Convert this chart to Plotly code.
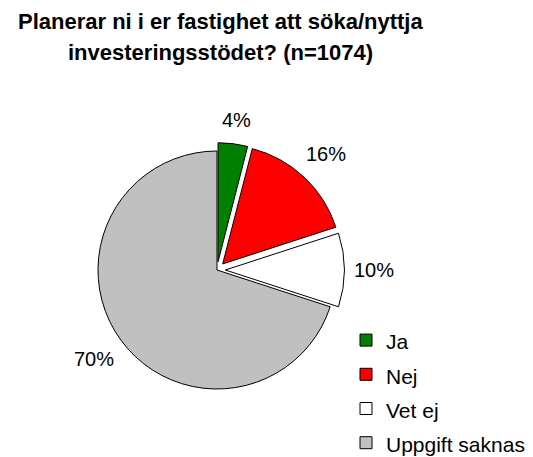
import math
import plotly.graph_objects as go

labels = ["Ja", "Nej", "Vet ej", "Uppgift saknas"]
values = [4, 16, 10, 70]
colors = ["#008000", "#FF0000", "#FFFFFF", "#C0C0C0"]
pulls = [0.07, 0.07, 0.07, 0.0]
title_lines = ["Planerar ni i er fastighet att söka/nyttja", "investeringsstödet? (n=1074)"]

# page has an 8px body margin; figure coordinates are page coordinates minus 8
W, H = 525, 457
cx, cy, r = 209, 262, 119
half = r * (1 + max(pulls))
FONT = "Liberation Sans, Arial"
LABEL_SIZE = 20

legend_labels = [f"<span style='font-size:21px'>{l}</span>" for l in labels]

fig = go.Figure(go.Pie(
    labels=legend_labels, values=values, sort=False, direction="clockwise", rotation=0,
    marker=dict(colors=colors, line=dict(color="black", width=1)),
    pull=pulls, textinfo="none",
    hovertemplate="%{label}: %{value}%<extra></extra>",
    domain=dict(x=[(cx - half) / W, (cx + half) / W], y=[1 - (cy + half) / H, 1 - (cy - half) / H]),
))

# percentage labels placed just outside each slice, along its middle angle
total = sum(values)
cum = 0
for v, p in zip(values, pulls):
    mid = 90 - (cum + v / 2) / total * 360
    cum += v
    a = math.radians(mid)
    text = f"{v}%"
    tw = len(text) * 0.56 * LABEL_SIZE
    th = LABEL_SIZE
    d = r * (1 + p) + 13 + abs(math.cos(a)) * tw / 2 + abs(math.sin(a)) * th / 2
    fig.add_annotation(text=text, x=(cx + d * math.cos(a)) / W, y=1 - (cy - d * math.sin(a)) / H,
                       xref="paper", yref="paper", xanchor="center", yanchor="middle",
                       showarrow=False, font=dict(size=LABEL_SIZE, color="black", family=FONT))

for line, ypx in zip(title_lines, [14, 45]):
    fig.add_annotation(text=line, x=212 / W, y=1 - ypx / H, xref="paper", yref="paper",
                       xanchor="center", yanchor="middle", showarrow=False,
                       font=dict(size=22, color="black", family=FONT, weight="bold"))
fig.update_layout(
    width=W, height=H, margin=dict(l=0, r=0, t=0, b=0),
    paper_bgcolor="white", plot_bgcolor="white",
    font=dict(family=FONT, color="black"),
    legend=dict(x=338 / W, xanchor="left", y=0, yanchor="bottom",
                font=dict(size=24, color="black"), bgcolor="rgba(0,0,0,0)"),
)
fig.write_html("out.html")
